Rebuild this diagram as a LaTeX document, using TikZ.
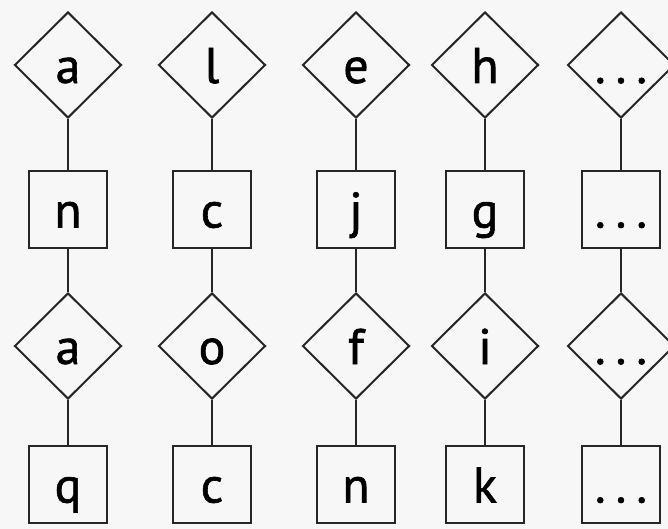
\documentclass[tikz,border=0pt]{standalone}
\usepackage{fontspec}
\setmainfont[FakeBold=1.2]{PT Sans}
\usetikzlibrary{shapes.geometric, positioning}
\definecolor{ink}{HTML}{262626}
\definecolor{paper}{HTML}{F7F7F7}
\newcommand{\dts}{.\kern10pt.\kern10pt.}
\tikzset{
  rhomb/.style = {diamond, draw=ink, line width=2pt, inner sep=0pt,
                  minimum width=107pt, minimum height=106pt,
                  text height=36pt, text depth=0pt,
                  font=\fontsize{50}{54}\selectfont},
  sq/.style    = {rectangle, draw=ink, line width=2pt, inner sep=0pt,
                  minimum width=78pt, minimum height=77pt,
                  text height=36pt, text depth=0pt,
                  font=\fontsize{50}{54}\selectfont},
  ln/.style    = {line width=2pt, color=ink},
}
\begin{document}
\begin{tikzpicture}[x=1pt, y=1pt]

  \fill[paper] (0,0) rectangle (668,-529);
  \useasboundingbox (0,0) rectangle (668,-529);

  % ── top diamonds
  \node[rhomb] at (68,-65)       (da1) {a};
  \node[rhomb, right=35pt of da1] (da2) {l};
  \node[rhomb, right=35pt of da2] (da3) {e};
  \node[rhomb, right=20pt of da3] (da4) {h};
  \node[rhomb, right=27pt of da4] (da5) {\dts};

  % ── top boxes
  \node[sq, below=51pt of da1] (ba1) {n};
  \node[sq, below=51pt of da2] (ba2) {c};
  \node[sq, below=51pt of da3] (ba3) {j};
  \node[sq, below=51pt of da4] (ba4) {g};
  \node[sq, below=51pt of da5] (ba5) {\dts};

  % ── bottom diamonds
  \node[rhomb, below=43pt of ba1] (db1) {a};
  \node[rhomb, below=43pt of ba2] (db2) {o};
  \node[rhomb, below=43pt of ba3] (db3) {f};
  \node[rhomb, below=43pt of ba4] (db4) {i};
  \node[rhomb, below=43pt of ba5] (db5) {\dts};

  % ── bottom boxes
  \node[sq, below=45pt of db1] (bb1) {q};
  \node[sq, below=45pt of db2] (bb2) {c};
  \node[sq, below=45pt of db3] (bb3) {n};
  \node[sq, below=45pt of db4] (bb4) {k};
  \node[sq, below=45pt of db5] (bb5) {\dts};

  % ── links
  \draw[ln] (da1) -- (ba1) -- (db1) -- (bb1);
  \draw[ln] (da2) -- (ba2) -- (db2) -- (bb2);
  \draw[ln] (da3) -- (ba3) -- (db3) -- (bb3);
  \draw[ln] (da4) -- (ba4) -- (db4) -- (bb4);
  \draw[ln] (da5) -- (ba5) -- (db5) -- (bb5);

\end{tikzpicture}
\end{document}
